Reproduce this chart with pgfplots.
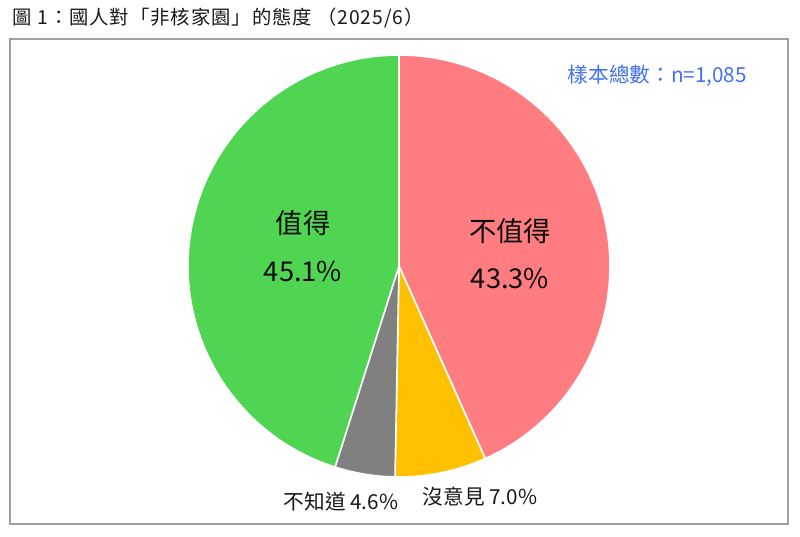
\documentclass[border=0pt]{standalone}
\usepackage{pgfplots}
\usepackage{pgfplotstable}
\pgfplotsset{compat=1.18}
\usepackage{fontspec}
\setmainfont{Noto Sans CJK TC}

\definecolor{slice0}{RGB}{255,124,128}
\definecolor{slice1}{RGB}{255,192,0}
\definecolor{slice2}{RGB}{128,128,128}
\definecolor{slice3}{RGB}{80,213,82}
\definecolor{noteblue}{RGB}{66,112,240}
\definecolor{framegray}{RGB}{160,160,160}

% share of answers, clockwise from 12 o'clock
\pgfplotstableread{
value cid
43.3 0
7.0 1
4.6 2
45.1 3
}\piedata
\pgfplotstablecreatecol[expr accum={\pgfmathaccuma + \thisrow{value}}{0}]{cum}\piedata

\def\pieR{158.25pt}

\begin{document}
\begin{tikzpicture}
\begin{axis}[
    set layers,
    scale only axis,
    width=600pt, height=402pt,
    xmin=0, xmax=800, ymin=0, ymax=536,
    y dir=reverse,
    hide axis,
    clip=false,
]
\path (axis cs:0,0) rectangle (axis cs:800,536);

\draw[framegray, line width=1.4pt] (axis cs:10,39) rectangle (axis cs:788,524);

\addplot[
    scatter, only marks, mark=*, mark size=0pt,
    mark options={draw=none, fill=none},
    point meta=explicit,
    visualization depends on={\thisrow{value} \as \val},
    visualization depends on={\thisrow{cum} \as \cumval},
    visualization depends on={\thisrow{cid} \as \cid},
    scatter/@pre marker code/.code={
        \pgfmathsetmacro\angA{90-3.6*(\cumval-\val)}
        \pgfmathsetmacro\angB{90-3.6*\cumval}
        \pgfmathtruncatemacro\ci{\cid}
        \fill[slice\ci, draw=white, line width=1.2pt, line join=round]
            (0,0) -- (\angA:\pieR) arc[start angle=\angA, end angle=\angB, radius=\pieR] -- cycle;
    },
    scatter/@post marker code/.code={},
] table[x expr=399, y expr=266, meta=value] {\piedata};

\begin{pgfonlayer}{axis foreground}
\node[anchor=west, font=\fontsize{14.5}{16}\selectfont\addfontfeature{LetterSpace=5}, text=black!90]
    at (axis cs:8,18) {圖 1：國人對「非核家園」的態度 （2025/6）};
\node[anchor=west, font=\fontsize{15.5}{17}\selectfont, text=noteblue]
    at (axis cs:563,76) {樣本總數：n=1,085};

\node[font=\fontsize{20.5}{22}\selectfont, text=black!95] at (axis cs:303,223) {值得};
\node[font=\fontsize{20.5}{22}\selectfont, text=black!95] at (axis cs:303,271) {45.1\%};
\node[font=\fontsize{20.5}{22}\selectfont, text=black!95] at (axis cs:510,231) {不值得};
\node[font=\fontsize{20.5}{22}\selectfont, text=black!95] at (axis cs:510,278) {43.3\%};

\node[font=\fontsize{15.5}{17}\selectfont, text=black!90] at (axis cs:341,502) {不知道 4.6\%};
\node[font=\fontsize{15.5}{17}\selectfont, text=black!90] at (axis cs:480,497) {沒意見 7.0\%};
\end{pgfonlayer}
\end{axis}
\end{tikzpicture}
\end{document}
